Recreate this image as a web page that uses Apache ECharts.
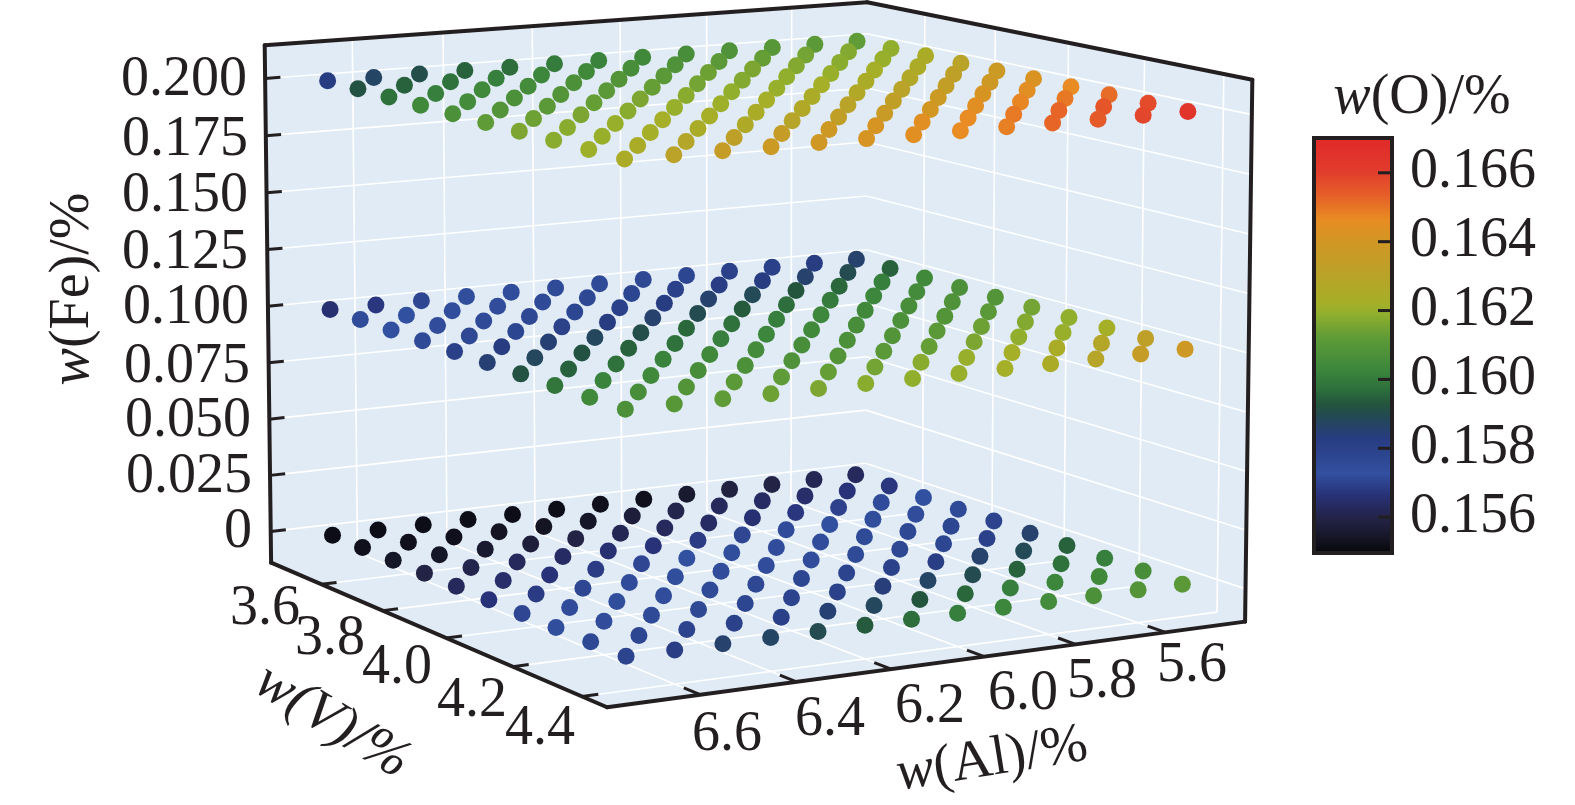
<!DOCTYPE html>
<html><head><meta charset="utf-8">
<style>html,body{margin:0;padding:0;background:#fff}#c{width:1575px;height:805px}</style>
<script src="https://cdn.jsdelivr.net/npm/echarts@6/dist/echarts.min.js"></script>
</head><body><div id="c"></div>
<script>
// ---------- data ----------
const alValues = [6.7,6.6,6.5,6.4,6.3,6.2,6.1,6.0,5.9,5.8,5.7,5.6,5.5];
const vValues = [3.5,3.6,3.7,3.8,3.9,4.0,4.1,4.2,4.3,4.4];
const feLevels = [0,0.1,0.2];
// w(O) per V row (3.5 .. 4.4), each row running over alValues
const oAtFe0 = [
[.1552,.1552,.1552,.1552,.1552,.1552,.1553,.1553,.1556,.1559,.1560,.1562,.1563],
[.1553,.1553,.1553,.1554,.1554,.1555,.1558,.1561,.1563,.1564,.1565,.1567,.1568],
[.1555,.1555,.1556,.1558,.1560,.1562,.1563,.1564,.1566,.1568,.1570,.1572,.1573],
[.1560,.1561,.1563,.1564,.1566,.1567,.1569,.1571,.1572,.1573,.1574,.1575,.1576],
[.1563,.1565,.1567,.1569,.1571,.1573,.1574,.1575,.1575,.1576,.1577,.1578,.1579],
[.1567,.1569,.1571,.1572,.1574,.1575,.1575,.1575,.1576,.1577,.1578,.1580,.1586],
[.1571,.1572,.1574,.1575,.1576,.1577,.1578,.1579,.1580,.1582,.1586,.1589,.1595],
[.1574,.1575,.1576,.1577,.1578,.1579,.1580,.1584,.1587,.1590,.1595,.1598,.1601],
[.1577,.1578,.1579,.1580,.1581,.1585,.1588,.1593,.1596,.1601,.1603,.1604,.1606],
[.1579,.1582,.1586,.1587,.1590,.1594,.1597,.1601,.1603,.1605,.1607,.1609,.1611]];
const oAtFe1 = [
[.1566,.1568,.1571,.1574,.1575,.1576,.1576,.1577,.1578,.1580,.1581,.1583,.1586],
[.1572,.1573,.1574,.1575,.1576,.1577,.1578,.1580,.1582,.1583,.1586,.1590,.1595],
[.1573,.1575,.1576,.1577,.1578,.1580,.1583,.1586,.1589,.1593,.1596,.1601,.1604],
[.1576,.1577,.1578,.1580,.1583,.1586,.1590,.1594,.1597,.1600,.1603,.1605,.1607],
[.1581,.1583,.1585,.1588,.1591,.1596,.1598,.1601,.1603,.1604,.1606,.1608,.1609],
[.1585,.1588,.1592,.1595,.1598,.1601,.1603,.1604,.1606,.1607,.1609,.1611,.1615],
[.1592,.1595,.1598,.1602,.1604,.1605,.1606,.1607,.1609,.1611,.1614,.1617,.1619],
[.1599,.1602,.1604,.1606,.1607,.1608,.1609,.1611,.1613,.1616,.1619,.1620,.1622],
[.1604,.1606,.1609,.1611,.1612,.1613,.1615,.1618,.1620,.1622,.1624,.1628,.1632],
[.1607,.1610,.1612,.1614,.1616,.1618,.1619,.1620,.1622,.1625,.1629,.1635,.1638]];
const oAtFe2 = [
[.1583,.1587,.1591,.1595,.1597,.1600,.1602,.1604,.1606,.1608,.1610,.1611,.1612],
[.1592,.1595,.1598,.1601,.1603,.1604,.1606,.1608,.1611,.1613,.1615,.1617,.1619],
[.1598,.1601,.1604,.1605,.1607,.1609,.1611,.1614,.1616,.1617,.1618,.1620,.1624],
[.1604,.1605,.1607,.1609,.1611,.1613,.1615,.1617,.1619,.1620,.1622,.1625,.1630],
[.1607,.1609,.1611,.1613,.1616,.1618,.1619,.1620,.1622,.1624,.1627,.1632,.1637],
[.1612,.1614,.1616,.1618,.1620,.1621,.1622,.1624,.1627,.1630,.1634,.1638,.1642],
[.1616,.1618,.1620,.1622,.1623,.1624,.1627,.1630,.1633,.1637,.1641,.1644,.1646],
[.1618,.1620,.1622,.1624,.1626,.1629,.1633,.1636,.1640,.1644,.1647,.1649,.1651],
[.1621,.1624,.1628,.1632,.1635,.1638,.1641,.1644,.1646,.1649,.1652,.1655,.1657],
[.1625,.1631,.1635,.1637,.1639,.1641,.1644,.1646,.1648,.1652,.1654,.1658,.1664]];
const alTicks = [6.6,6.4,6.2,6.0,5.8,5.6];
const vTicks = [3.6,3.8,4.0,4.2,4.4];
const feTicks = [0,0.025,0.05,0.075,0.1,0.125,0.15,0.175,0.2];
const feTickLabels = ['0','0.025','0.050','0.075','0.100','0.125','0.150','0.175','0.200'];
const oTicks = [0.156,0.158,0.160,0.162,0.164,0.166];

// ---------- box extents and colour scale ----------
const AL_MIN=5.42, AL_MAX=6.79, V_MIN=3.43, V_MAX=4.47, FE_MIN=-0.014, FE_MAX=0.2145;
const O_MIN=0.15496, O_MAX=0.16701;
const colourStops = [
[.15500,[5,5,10]],[.15540,[20,20,35]],[.15600,[35,35,70]],[.15670,[40,50,120]],[.15730,[50,80,160]],
[.15830,[40,60,130]],[.15900,[35,75,80]],[.15930,[35,85,60]],[.15970,[45,110,60]],[.16030,[60,135,60]],
[.16120,[95,155,55]],[.16190,[145,175,45]],[.16220,[165,175,40]],[.16320,[190,160,40]],[.16400,[210,150,35]],
[.16460,[232,140,35]],[.16530,[230,95,40]],[.16600,[225,60,45]],[.16700,[225,40,40]]];
function colourOf(o){
  const s=colourStops; if(o<=s[0][0])return 'rgb('+s[0][1]+')';
  for(let i=1;i<s.length;i++){ if(o<=s[i][0]){const t=(o-s[i-1][0])/(s[i][0]-s[i-1][0]);
    return 'rgb('+s[i][1].map((c,k)=>Math.round(s[i-1][1][k]+(c-s[i-1][1][k])*t)).join(',')+')';}}
  return 'rgb('+s[s.length-1][1]+')';
}

// ---------- camera: calibrated from how the plot's reference spots sit in the frame ----------
const calib = [
[6.7,3.5,0,331,536],[6.7,4.4,0,626,656],[5.5,4.4,0,1182,584],[5.5,3.5,0,855,475],
[6.7,3.5,.1,329,310],[6.7,4.4,.1,626,409],[5.5,4.4,.1,1184,350],[5.5,3.5,.1,856,260],
[6.7,3.5,.2,326,81],[6.7,4.4,.2,624,159],[5.5,4.4,.2,1187,112],[5.5,3.5,.2,856,42],
[AL_MAX,V_MIN,FE_MIN,273,562],[AL_MAX,V_MAX,FE_MIN,607,708],[AL_MIN,V_MAX,FE_MIN,1247,620],
[AL_MAX,V_MIN,FE_MAX,267,44],[AL_MIN,V_MIN,FE_MAX,869,1],[AL_MIN,V_MAX,FE_MAX,1253,80]];
const nu=(a,v,f)=>[(a-AL_MIN)/(AL_MAX-AL_MIN),(v-V_MIN)/(V_MAX-V_MIN),(f-FE_MIN)/(FE_MAX-FE_MIN)];
function solveCamera(){
  const N=11,M=Array.from({length:N},()=>new Array(N+1).fill(0));
  const add=(r,b)=>{for(let i=0;i<N;i++){for(let j=0;j<N;j++)M[i][j]+=r[i]*r[j];M[i][N]+=r[i]*b;}};
  calib.forEach(c=>{const [u,v,w]=nu(c[0],c[1],c[2]),x=c[3]/1000,y=c[4]/1000;
    add([u,v,w,1,0,0,0,0,-x*u,-x*v,-x*w],x); add([0,0,0,0,u,v,w,1,-y*u,-y*v,-y*w],y);});
  for(let i=0;i<N;i++){let p=i;for(let r=i+1;r<N;r++)if(Math.abs(M[r][i])>Math.abs(M[p][i]))p=r;
    [M[i],M[p]]=[M[p],M[i]];
    for(let r=0;r<N;r++){if(r===i)continue;const f=M[r][i]/M[i][i];for(let k=i;k<=N;k++)M[r][k]-=f*M[i][k];}}
  return M.map((r,i)=>r[N]/r[i]);
}
const P=solveCamera();
function project(a,v,f){const [x,y,z]=nu(a,v,f);const d=P[8]*x+P[9]*y+P[10]*z+1;
  return [1000*(P[0]*x+P[1]*y+P[2]*z+P[3])/d,1000*(P[4]*x+P[5]*y+P[6]*z+P[7])/d];}

// ---------- build marks ----------
const oTables=[oAtFe0,oAtFe1,oAtFe2];
const points=[];
feLevels.forEach((fe,k)=>vValues.forEach((v,j)=>alValues.forEach((al,i)=>{
  const p=project(al,v,fe); points.push([p[0],p[1],oTables[k][j][i]]);
})));
const gridSeg=[],frameSeg=[],tickSeg=[];
feTicks.forEach(f=>{gridSeg.push([AL_MAX,V_MIN,f,AL_MIN,V_MIN,f],[AL_MIN,V_MIN,f,AL_MIN,V_MAX,f]);
  tickSeg.push([AL_MAX,V_MIN,f,AL_MAX-0.033,V_MIN,f]);});
alTicks.forEach(a=>{gridSeg.push([a,V_MIN,FE_MIN,a,V_MIN,FE_MAX],[a,V_MIN,FE_MIN,a,V_MAX,FE_MIN]);
  tickSeg.push([a,V_MAX,FE_MIN,a,V_MAX-0.045,FE_MIN]);});
vTicks.forEach(v=>{gridSeg.push([AL_MIN,v,FE_MIN,AL_MIN,v,FE_MAX],[AL_MIN,v,FE_MIN,AL_MAX,v,FE_MIN]);
  tickSeg.push([AL_MAX,v,FE_MIN,AL_MAX-0.033,v,FE_MIN]);});
frameSeg.push(
 [AL_MAX,V_MIN,FE_MAX,AL_MIN,V_MIN,FE_MAX],[AL_MIN,V_MIN,FE_MAX,AL_MIN,V_MAX,FE_MAX],
 [AL_MAX,V_MIN,FE_MIN,AL_MAX,V_MIN,FE_MAX],[AL_MIN,V_MAX,FE_MIN,AL_MIN,V_MAX,FE_MAX],
 [AL_MAX,V_MIN,FE_MIN,AL_MAX,V_MAX,FE_MIN],[AL_MAX,V_MAX,FE_MIN,AL_MIN,V_MAX,FE_MIN]);
const walls=[
 [[AL_MAX,V_MIN,FE_MIN],[AL_MIN,V_MIN,FE_MIN],[AL_MIN,V_MIN,FE_MAX],[AL_MAX,V_MIN,FE_MAX]],
 [[AL_MIN,V_MIN,FE_MIN],[AL_MIN,V_MAX,FE_MIN],[AL_MIN,V_MAX,FE_MAX],[AL_MIN,V_MIN,FE_MAX]],
 [[AL_MAX,V_MIN,FE_MIN],[AL_MAX,V_MAX,FE_MIN],[AL_MIN,V_MAX,FE_MIN],[AL_MIN,V_MIN,FE_MIN]]];

function segSeries(data,stroke,width,cap){return {type:'custom',coordinateSystem:'cartesian2d',xAxisIndex:0,yAxisIndex:0,silent:true,clip:false,
  data:data,encode:{x:0,y:1},renderItem:(p,api)=>{
   const a=api.coord(project(api.value(0),api.value(1),api.value(2))),b=api.coord(project(api.value(3),api.value(4),api.value(5)));
   return {type:'line',shape:{x1:a[0],y1:a[1],x2:b[0],y2:b[1]},style:{stroke:stroke,lineWidth:width,lineCap:cap}};}};}

const SERIF='"Liberation Serif","Times New Roman",serif', INK='#231f20', TICK_FS=56, TITLE_FS=56;
function txt(x,y,text,align,fs,rot,rich){return {type:'text',x:x,y:y,rotation:rot||0,z:20,silent:true,
  style:{text:text,fill:INK,font:fs+'px '+SERIF,align:align,verticalAlign:'middle',rich:rich}};}
function titleRich(fs){return {i:{fontStyle:'italic',fontFamily:SERIF,fontSize:fs,fill:INK},n:{fontFamily:SERIF,fontSize:fs,fill:INK}};}
const feLabelPos=[[252,532],[252,477],[251,421],[250,367],[249,308],[248,253],[248,196],[248,140],[247,80]];
const vLabelPos=[[265,609],[330,639],[397,668],[472,701],[540,729]];
const alLabelPos=[[727,735],[830,720],[930,707],[1023,694],[1102,682],[1192,666]];
const graphics=[];
feTicks.forEach((f,i)=>graphics.push(txt(feLabelPos[i][0],feLabelPos[i][1],feTickLabels[i],'right',TICK_FS)));
vTicks.forEach((v,i)=>graphics.push(txt(vLabelPos[i][0],vLabelPos[i][1],v.toFixed(1),'center',TICK_FS)));
alTicks.forEach((a,i)=>graphics.push(txt(alLabelPos[i][0],alLabelPos[i][1],a.toFixed(1),'center',TICK_FS)));
graphics.push(txt(73,289,'{i|w}{n|(Fe)/%}','center',TITLE_FS,Math.PI/2,titleRich(TITLE_FS)));
graphics.push(txt(332,722,'{i|w(V)/%}','center',TITLE_FS,-0.55,titleRich(TITLE_FS)));
graphics.push(txt(992,760,'{i|w}{n|(Al)/%}','center',TITLE_FS,0.16,titleRich(TITLE_FS)));
graphics.push(txt(1422,98,'{i|w}{n|(O)/%}','center',TITLE_FS,0,titleRich(TITLE_FS)));

const BAR_TOP=138,BAR_BOTTOM=553,BAR_LEFT=1314,BAR_RIGHT=1392;
const gradStops=colourStops.map(s=>({offset:Math.min(1,Math.max(0,(O_MAX-s[0])/(O_MAX-O_MIN))),color:'rgb('+s[1]+')'})).reverse();

const option={animation:false,backgroundColor:'#fff',
 grid:[{left:0,top:0,width:1575,height:805},
       {left:BAR_LEFT,top:BAR_TOP,width:BAR_RIGHT-BAR_LEFT,height:BAR_BOTTOM-BAR_TOP}],
 xAxis:[{type:'value',min:0,max:1575,show:false,gridIndex:0},{type:'value',min:0,max:1,show:false,gridIndex:1}],
 yAxis:[{type:'value',min:0,max:805,inverse:true,show:false,gridIndex:0},
  {type:'value',gridIndex:1,min:O_MIN,max:O_MAX,position:'right',z:10,splitLine:{show:false},axisLine:{show:false},
   axisTick:{show:false},
   axisLabel:{show:true,customValues:oTicks,margin:18,color:INK,fontFamily:SERIF,fontSize:56,padding:[0,0,28,0],formatter:v=>v.toFixed(3)}}],
 graphic:graphics,
 series:[
  {type:'custom',coordinateSystem:'cartesian2d',xAxisIndex:0,yAxisIndex:0,silent:true,clip:false,data:[0,1,2],
   renderItem:(p,api)=>({type:'polygon',shape:{points:walls[p.dataIndex].map(c=>api.coord(project(c[0],c[1],c[2])))},style:{fill:'#e0ebf6',stroke:'#e0ebf6',lineWidth:1}})},
  segSeries(gridSeg,'#ffffff',1.6,'butt'),
  {type:'scatter',xAxisIndex:0,yAxisIndex:0,silent:true,symbol:'circle',symbolSize:17,data:points,
   itemStyle:{opacity:1,color:p=>colourOf(p.value[2])},z:3},
  Object.assign(segSeries(tickSeg,INK,3,'butt'),{z:4}),
  Object.assign(segSeries(frameSeg,INK,4,'round'),{z:5}),
  {type:'custom',coordinateSystem:'cartesian2d',xAxisIndex:1,yAxisIndex:1,silent:true,clip:false,z:6,data:[[0,O_MIN,1,O_MAX]],
   renderItem:(p,api)=>{const a=api.coord([api.value(0),api.value(3)]),b=api.coord([api.value(2),api.value(1)]);
    return {type:'rect',shape:{x:a[0],y:a[1],width:b[0]-a[0],height:b[1]-a[1]},
     style:{stroke:INK,lineWidth:4,fill:new echarts.graphic.LinearGradient(0,0,0,1,gradStops)}};}},
  {type:'custom',coordinateSystem:'cartesian2d',xAxisIndex:1,yAxisIndex:1,silent:true,clip:false,z:7,data:oTicks.map(o=>[1,o]),encode:{x:0,y:1},
   renderItem:(p,api)=>{const b=api.coord([api.value(0),api.value(1)]);
    return {type:'line',shape:{x1:b[0],y1:b[1],x2:b[0]-14,y2:b[1]},style:{stroke:INK,lineWidth:3}};}}
 ]};
echarts.init(document.getElementById('c')).setOption(option);
</script></body></html>
